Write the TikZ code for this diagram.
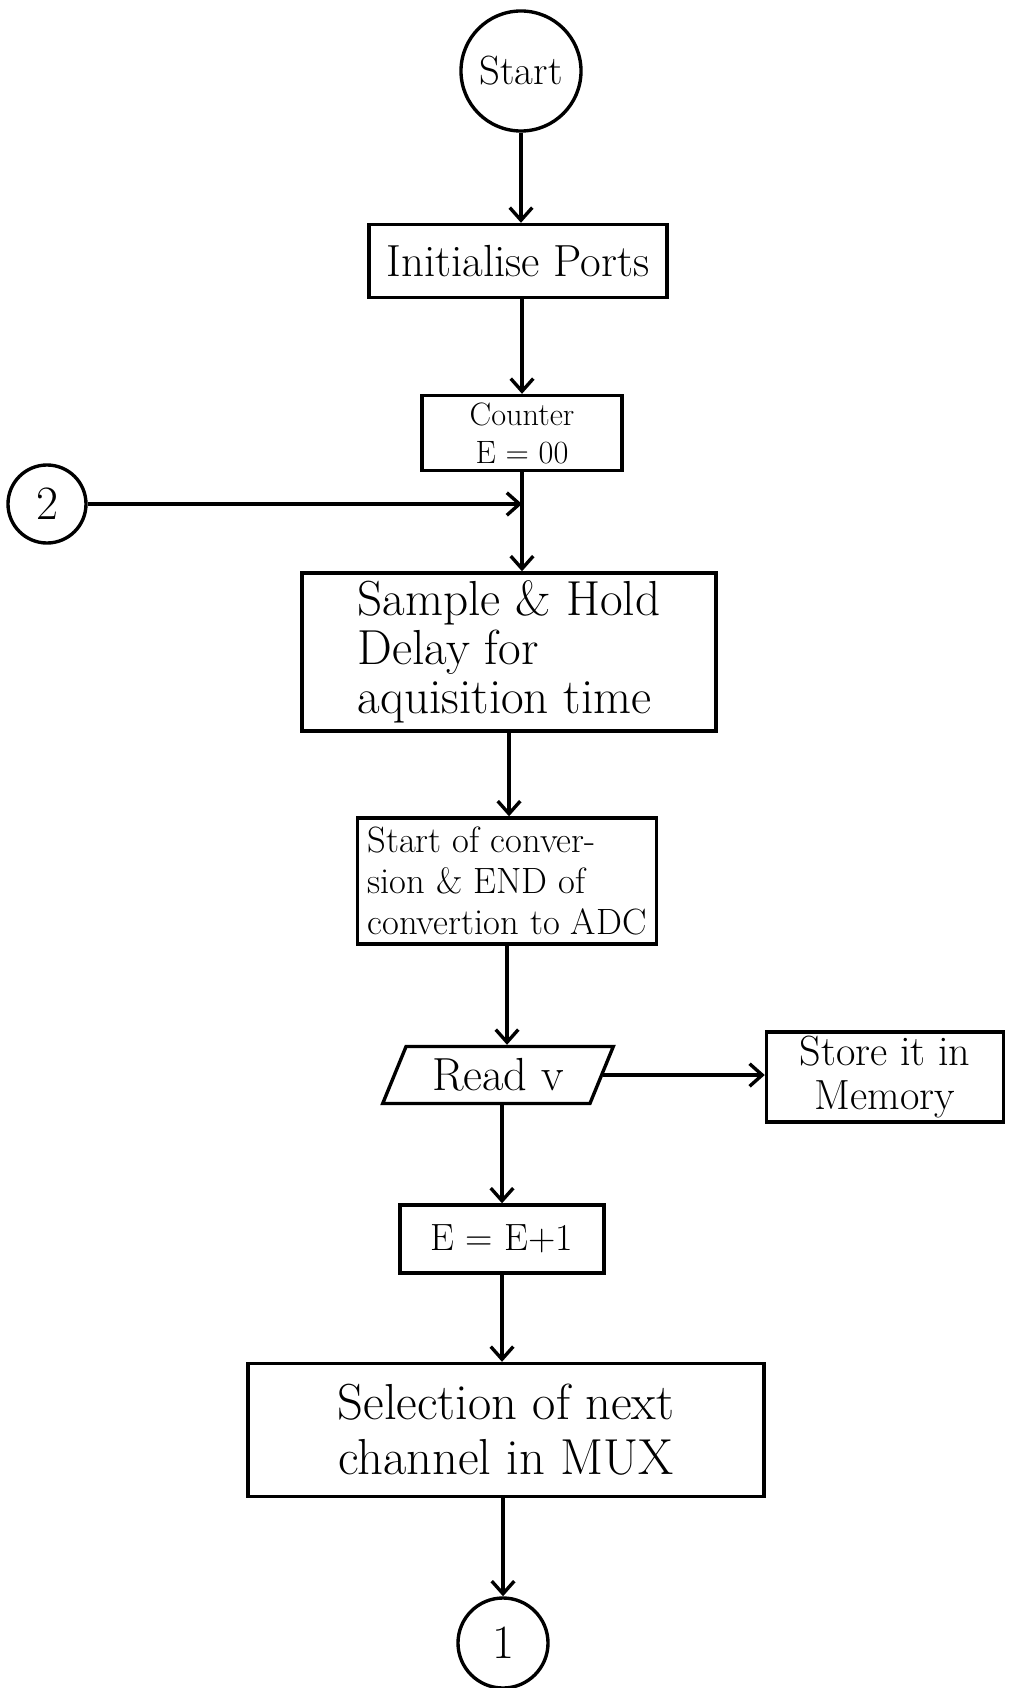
\documentclass[tikz,border=0pt]{standalone}
\usepackage{fontspec}
\usepackage{tikz}
\usetikzlibrary{shapes,arrows.meta,positioning,calc}

\begin{document}
\begin{tikzpicture}[x=0.025cm, y=-0.025cm, line width=2.4pt,
    box/.style={draw, rectangle, inner sep=3pt},
    conn/.style={draw, circle, inner sep=0pt},
    flow/.style={-{Straight Barb[length=9pt,width=16pt]}}]
    \useasboundingbox (0,0) rectangle (1008,1688);

    % Blocks
    \node[conn, minimum size=3cm, font=\fontsize{29}{32}\selectfont] (start) at (521,71) {Start};
    \node[box, minimum width=7.45cm, minimum height=1.825cm, font=\fontsize{32}{36}\selectfont] (init) at (518,261) {Initialise Ports};
    \node[box, minimum width=5cm, minimum height=1.875cm, align=center, font=\fontsize{23}{27}\selectfont] (counter) at (522,433) {Counter\\E = 00};
    \node[conn, minimum size=1.95cm, font=\fontsize{34}{36}\selectfont] (two) at (47,504) {2};
    \node[box, minimum width=10.35cm, minimum height=3.95cm, align=left, font=\fontsize{35}{35}\selectfont] (sample) at (509,652) {Sample \& Hold\\Delay for\\aquisition time};
    \node[box, minimum width=7.475cm, minimum height=3.15cm, align=left, font=\fontsize{26}{29}\selectfont] (soc) at (507,881) {Start of conver-\\sion \& END of\\convertion to ADC};
    \node[draw, trapezium, trapezium left angle=67, trapezium right angle=113, trapezium stretches=true,
        minimum width=5.775cm, minimum height=1.425cm, font=\fontsize{33}{36}\selectfont] (readv) at (498,1075) {Read v};
    \node[box, minimum width=5.925cm, minimum height=2.05cm, align=center, font=\fontsize{30}{31}\selectfont] (store) at (885,1077) {Store it in\\Memory};
    \node[box, minimum width=5.1cm, minimum height=1.7cm, font=\fontsize{27}{30}\selectfont] (inc) at (502,1239) {E = E+1};
    \node[box, minimum width=12.9cm, minimum height=3.325cm, align=center, font=\fontsize{36}{39}\selectfont] (select) at (506,1430) {Selection of next\\channel in MUX};
    \node[conn, minimum size=2.25cm, font=\fontsize{34}{36}\selectfont] (one) at (503,1643) {1};

    % Flow
    \coordinate (join) at (counter.south |- two.east);
    \draw[flow] (start) -- (start |- init.north);
    \draw[flow] (init.south -| counter) -- (counter);
    \draw[flow] (counter) -- (counter |- sample.north);
    \draw[flow] (two) -- (join);
    \draw[flow] (sample) -- (sample |- soc.north);
    \draw[flow] (soc) -- (soc |- readv.north);
    \draw[flow] (readv.east) -- (readv.east -| store.west);
    \draw[flow] (readv.south -| inc) -- (inc);
    \draw[flow] (inc) -- (inc |- select.north);
    \draw[flow] (select.south -| one) -- (one);
\end{tikzpicture}
\end{document}
